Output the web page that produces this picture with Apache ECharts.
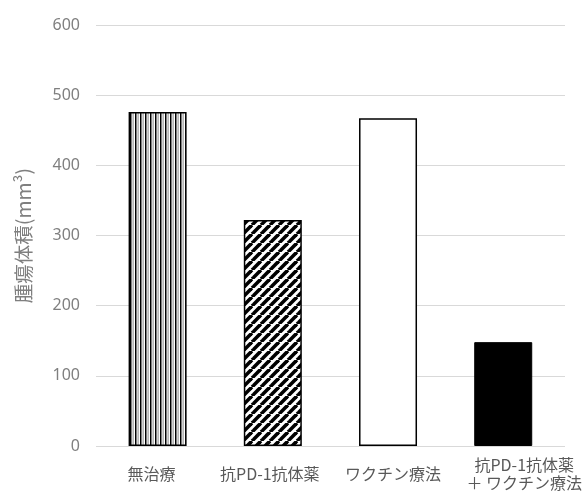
<!DOCTYPE html>
<html>
<head>
<meta charset="utf-8">
<script src="https://cdn.jsdelivr.net/npm/echarts@6/dist/echarts.min.js"></script>
<style>html,body{margin:0;padding:0;background:#fff;}#c{width:585px;height:492px;}</style>
</head>
<body>
<div id="c"></div>
<script>
const categories = ['無治療', '抗PD-1抗体薬', 'ワクチン療法', '抗PD-1抗体薬\n＋ ワクチン療法'];
const values = [476, 322, 467, 148];
const yTicks = [0, 100, 200, 300, 400, 500, 600];
const yAxisName = '腫瘍体積(mm³)';

function vPattern() {
  const c = document.createElement('canvas');
  c.width = 5; c.height = 4;
  const g = c.getContext('2d');
  g.fillStyle = '#fff'; g.fillRect(0, 0, 5, 4);
  g.fillStyle = '#000'; g.fillRect(0, 0, 1.5, 4);
  g.fillStyle = '#8a8a8a'; g.fillRect(2.6, 0, 1, 4);
  return c;
}
function dPattern() {
  const s = 9;
  const c = document.createElement('canvas');
  c.width = s; c.height = s;
  const g = c.getContext('2d');
  g.fillStyle = '#fff'; g.fillRect(0, 0, s, s);
  g.strokeStyle = '#000'; g.lineWidth = 3.6;
  for (const k of [-s, 0, s]) {
    g.beginPath(); g.moveTo(k, s); g.lineTo(k + s, 0); g.stroke();
  }
  return c;
}

const styles = [
  { color: { image: vPattern(), repeat: 'repeat' }, borderColor: '#000', borderWidth: 1.5 },
  { color: { image: dPattern(), repeat: 'repeat' }, borderColor: '#000', borderWidth: 1.5 },
  { color: '#fff', borderColor: '#000', borderWidth: 1.5 },
  { color: '#000', borderColor: '#000', borderWidth: 1 }
];
const shifts = [-6, -3, 5, 21];

const chart = echarts.init(document.getElementById('c'), null, { renderer: 'canvas' });
const rich = {};
shifts.forEach((s, i) => {
  rich['a' + i] = {
    fontSize: 16, color: '#595959', lineHeight: 18,
    fontFamily: 'Noto Sans CJK JP',
    padding: s >= 0 ? [0, 0, 0, 2 * s] : [0, -2 * s, 0, 0]
  };
});

chart.setOption({
  animation: false,
  backgroundColor: '#fff',
  grid: [
    { left: 96, right: 20, top: 25, bottom: 46 },
    { left: 100, right: 24, top: 25, bottom: 46 }
  ],
  xAxis: [
    { type: 'category', gridIndex: 0, data: categories, show: false },
    {
      type: 'category', gridIndex: 1, data: categories,
      axisLine: { show: false }, axisTick: { show: false },
      axisLabel: {
        interval: 0, margin: 28, verticalAlign: 'middle',
        formatter: (v, i) => v.split('\n').map(l => '{a' + i + '|' + l + '}').join('\n'),
        rich: rich
      }
    }
  ],
  yAxis: [
    {
      type: 'value', gridIndex: 0, min: yTicks[0], max: yTicks[yTicks.length - 1], interval: 100,
      axisLine: { show: false }, axisTick: { show: false },
      splitLine: { lineStyle: { color: '#d9d9d9', width: 1 } },
      axisLabel: { color: '#7f7f7f', fontSize: 16, margin: 16, fontFamily: 'Noto Sans' },
      name: yAxisName, nameLocation: 'middle', nameGap: 63,
      nameTextStyle: { color: '#7f7f7f', fontSize: 19.5, fontFamily: 'Noto Sans CJK JP' }
    },
    {
      type: 'value', gridIndex: 1, min: yTicks[0], max: yTicks[yTicks.length - 1], interval: 100,
      show: false, splitLine: { show: false }
    }
  ],
  series: [{
    type: 'bar', xAxisIndex: 1, yAxisIndex: 1, barWidth: 58,
    data: values.map((v, i) => ({ value: v, itemStyle: styles[i] }))
  }]
});
</script>
</body>
</html>
